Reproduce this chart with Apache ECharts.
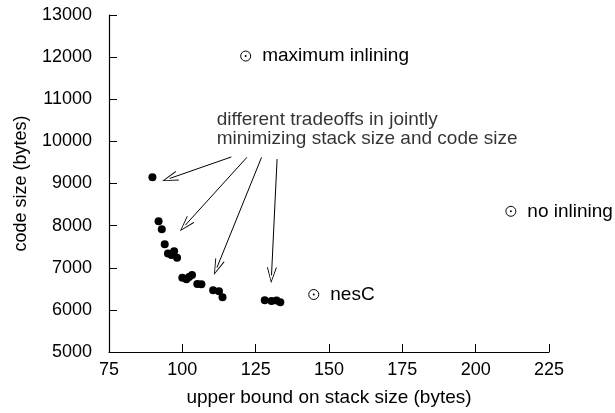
<!DOCTYPE html>
<html>
<head>
    <meta charset="utf-8">
    <title>stack vs code size</title>
    <script src="https://cdn.jsdelivr.net/npm/echarts@6/dist/echarts.min.js"></script>
    <style>
        html, body { margin: 0; padding: 0; background: #fff; }
        #chart { width: 615px; height: 413px; }
    </style>
</head>
<body>
    <div id="chart"></div>
    <script>
        // tradeoff points (stack bytes, code bytes)
        var stackSizes = [89.8, 91.9, 93.0, 94.0, 95.1, 96.3, 97.2, 98.2, 100.0, 101.4, 102.3,
            103.3, 105.1, 106.5, 110.5, 112.5, 113.7, 128.1, 130.4, 132.1, 133.4];
        var codeSizes = [9150, 8105, 7915, 7560, 7340, 7300, 7390, 7240, 6760, 6725, 6780,
            6830, 6615, 6610, 6465, 6440, 6300, 6230, 6210, 6220, 6180];

        // labelled reference points
        var refNames = ['maximum inlining', 'no inlining', 'nesC'];
        var refStack = [121.6, 212, 144.8];
        var refCode = [12025, 8340, 6365];

        // arrows: [fromX, fromY, toX, toY]
        var arrows = [
            [116.7, 9630, 95.7, 9120],
            [122.0, 9620, 101.0, 8010],
            [127.0, 9620, 111.8, 7005],
            [132.3, 9580, 130.4, 6820]
        ];
        var noteText = 'different tradeoffs in jointly\nminimizing stack size and code size';
        var notePos = [111.7, 10740];

        var xTicks = { min: 75, max: 225, interval: 25 };
        var yTicks = { min: 5000, max: 13000, interval: 1000 };

        var font = 'Liberation Sans';

        var dots = stackSizes.map(function (x, i) { return [x, codeSizes[i]]; });
        var refs = refStack.map(function (x, i) { return { name: refNames[i], value: [x, refCode[i]] }; });

        var chart = echarts.init(document.getElementById('chart'));
        chart.setOption({
            animation: false,
            textStyle: { fontFamily: font, color: '#000' },
            grid: { left: 109, right: 66, top: 15, bottom: 61, outerBoundsMode: 'none', containLabel: false },
            xAxis: {
                type: 'value',
                min: xTicks.min, max: xTicks.max, interval: xTicks.interval,
                name: 'upper bound on stack size (bytes)',
                nameLocation: 'middle',
                nameGap: 36,
                nameTextStyle: { fontSize: 19, color: '#000', fontFamily: font },
                axisLine: { lineStyle: { color: '#000', width: 1.2 } },
                axisTick: { inside: true, length: 8, lineStyle: { color: '#000' } },
                axisLabel: { fontSize: 18, color: '#000', margin: 9, fontFamily: font },
                splitLine: { show: false }
            },
            yAxis: {
                type: 'value',
                min: yTicks.min, max: yTicks.max, interval: yTicks.interval,
                name: 'code size (bytes)',
                nameLocation: 'middle',
                nameGap: 79,
                nameTextStyle: { fontSize: 18, color: '#000', fontFamily: font },
                axisLine: { show: true, lineStyle: { color: '#000', width: 1.2 } },
                axisTick: { show: true, inside: true, length: 8, lineStyle: { color: '#000' } },
                axisLabel: {
                    fontSize: 18, color: '#000', margin: 17, fontFamily: font,
                    formatter: function (v) { return String(v); }
                },
                splitLine: { show: false }
            },
            series: [
                {
                    type: 'scatter',
                    data: dots,
                    symbol: 'circle',
                    symbolSize: 8,
                    itemStyle: { color: '#000', opacity: 1 },
                    markLine: {
                        silent: true,
                        symbol: ['none', 'path://M0,16 L5,0 L10,16 L9,16 L5,2.6 L1,16 Z'],
                        symbolSize: [10, 16],
                        label: { show: false },
                        lineStyle: { color: '#000', width: 1, type: 'solid', opacity: 1 },
                        data: arrows.map(function (a) {
                            return [{ coord: [a[0], a[1]] }, { coord: [a[2], a[3]] }];
                        })
                    }
                },
                {
                    type: 'scatter',
                    data: refs,
                    symbol: 'circle',
                    symbolSize: 10,
                    itemStyle: { color: '#fff', borderColor: '#000', borderWidth: 1, opacity: 1 },
                    label: {
                        show: true,
                        position: 'right',
                        distance: 11,
                        formatter: '{b}',
                        fontSize: 19,
                        color: '#000',
                        fontFamily: font
                    }
                },
                {
                    type: 'scatter',
                    data: refs.map(function (r) { return r.value; }),
                    symbol: 'circle',
                    symbolSize: 2,
                    itemStyle: { color: '#000', opacity: 1 }
                },
                {
                    type: 'scatter',
                    data: [notePos],
                    symbolSize: 0,
                    label: {
                        show: true,
                        position: [0, 0],
                        align: 'left',
                        verticalAlign: 'top',
                        formatter: noteText,
                        fontSize: 19,
                        lineHeight: 19,
                        color: '#000',
                        fontFamily: font
                    }
                }
            ]
        });
    </script>
</body>
</html>
